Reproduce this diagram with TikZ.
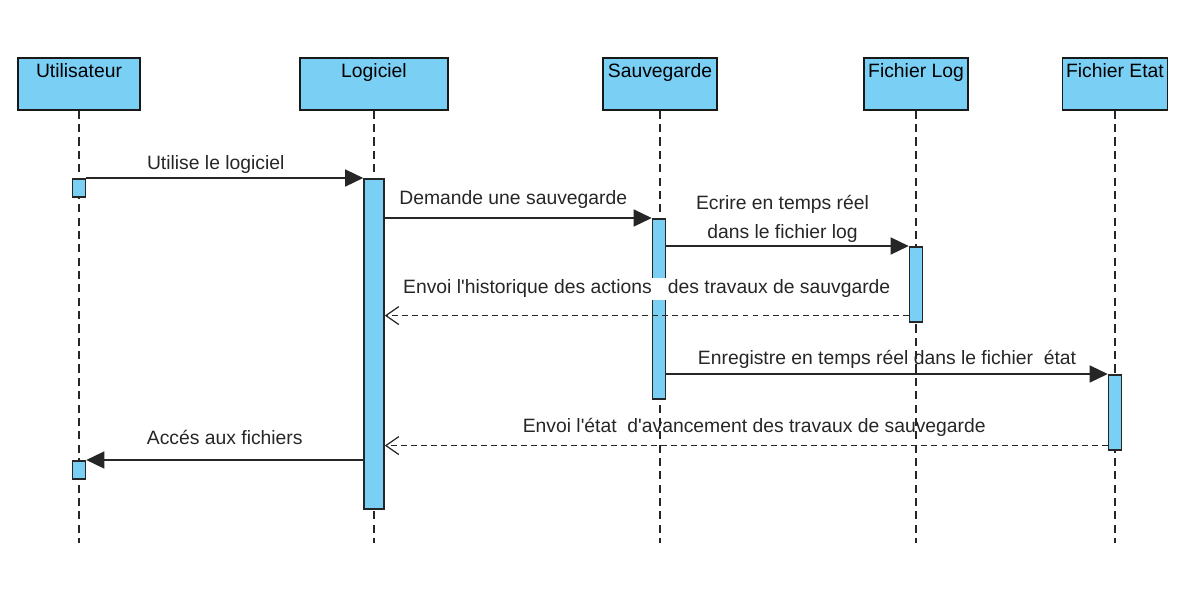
\documentclass[tikz,border=0pt]{standalone}
\usepackage{fontspec}
\setmainfont{Liberation Sans}
\usetikzlibrary{arrows.meta,positioning}
\definecolor{boxblue}{RGB}{122,207,245}
\tikzset{
  head/.style={draw=black!90,fill=boxblue,line width=0.9pt,minimum height=1.04cm,inner sep=0pt},
  headtext/.style={anchor=north,inner sep=3.3pt},
  act/.style={draw=black!85,fill=boxblue,line width=0.9pt,anchor=north,minimum width=0.26cm,inner sep=0pt},
  lifeline/.style={black!85,line width=0.75pt,dash pattern=on 4.6pt off 3pt},
  msg/.style={black!85,line width=0.8pt,-{Triangle[length=0.36cm,width=0.34cm]}},
  reply/.style={black!85,line width=0.8pt,dash pattern=on 3.4pt off 2.3pt,-{Straight Barb[length=0.26cm,width=0.36cm,line width=0.7pt]}},
  txt/.style={font=\fontsize{11}{13}\selectfont}
}
\begin{document}
\begin{tikzpicture}[x=0.02cm,y=-0.02cm,txt]
\useasboundingbox (0,0) rectangle (1177,605);
% participants
\node[head,minimum width=2.44cm,label={[headtext]north:Utilisateur}] (u) at (79,84) {};
\node[head,minimum width=2.96cm,label={[headtext]north:Logiciel}] (l) at (374,84) {};
\node[head,minimum width=2.28cm,label={[headtext]north:Sauvegarde}] (s) at (660,84) {};
\node[head,minimum width=2.08cm,label={[headtext]north:Fichier Log}] (f) at (916,84) {};
\node[head,minimum width=2.10cm,label={[headtext]north:Fichier Etat}] (e) at (1115,84) {};
\foreach \p/\x in {u/79,l/374,s/660,f/916,e/1115}{
  \coordinate (\p end) at (\x,543);
  \draw[lifeline] (\p.south) -- (\p end);
}
% activations
\node[act,minimum height=0.36cm] (u1) at (79,178) {};
\node[act,minimum height=0.36cm] (u2) at (79,460) {};
\node[act,minimum width=0.4cm,minimum height=6.6cm] (l1) at (374,178) {};
\node[act,minimum height=3.6cm] (s1) at (659,218) {};
\node[act,minimum height=1.5cm] (f1) at (916,246) {};
\node[act,minimum height=1.5cm] (e1) at (1115,374) {};
\coordinate (r1) at ([yshift=0.14cm]f1.south west);
\coordinate (r2) at ([yshift=0.1cm]e1.south west);
% messages
\draw[msg] (u1.north east) -- (l1.north west) node[midway,above=-1pt,xshift=-0.18cm] {Utilise le logiciel};
\draw[msg] (l1.east |- s1.north) -- (s1.north west) node[midway,above=1.6pt,xshift=-0.1cm] {Demande une sauvegarde};
\draw[msg] (s1.east |- f1.north) -- (f1.north west) node[midway,above=-1.7pt,align=center,xshift=-0.1cm] {Ecrire en temps réel\\[3.5pt]dans le fichier log};
\draw[reply] (r1) -- (l1.east |- r1) node[midway,above=8.7pt,fill=white,inner sep=1pt] {Envoi l\textquotesingle historique des actions \ \ des travaux de sauvgarde};
\draw[msg] (s1.east |- e1.north) -- (e1.north west) node[midway,above=-0.7pt] {Enregistre en temps réel dans le fichier \ état};
\draw[reply] (r2) -- (l1.east |- r2) node[midway,above=1.5pt,xshift=0.16cm] {Envoi l\textquotesingle état \ d\textquotesingle avancement des travaux de sauvegarde};
\draw[msg] (l1.west |- u2.north) -- (u2.north east) node[midway,above=4.8pt] {Accés aux fichiers};
\end{tikzpicture}
\end{document}
